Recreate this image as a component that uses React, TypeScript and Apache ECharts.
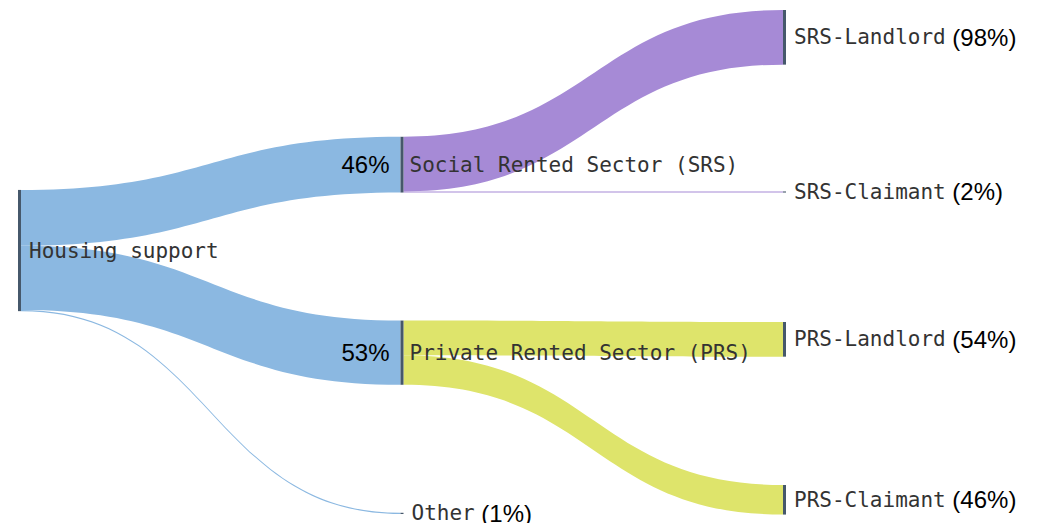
import React, { useEffect, useRef } from "react";
import * as echarts from "echarts";

// ---- data ----
const rootName = "Housing support";
const sectorNames = ["Social Rented Sector (SRS)", "Private Rented Sector (PRS)", "Other"];
const sectorShares = [46, 53, 1]; // % of housing support
const srsChildren = ["SRS-Landlord", "SRS-Claimant"];
const srsShares = [98, 2]; // % of SRS
const prsChildren = ["PRS-Landlord", "PRS-Claimant"];
const prsShares = [54, 46]; // % of PRS

// ---- layout (vertical placement of nodes as a fraction of the series height) ----
const nodeLocalY: Record<string, number> = {
  "Housing support": 0.357,
  "SRS-Landlord": 0,
  "SRS-Claimant": 0.36,
  "PRS-Landlord": 0.619,
  "PRS-Claimant": 0.9425,
};

// ---- styles ----
const MONO = "DejaVu Sans Mono";
const SANS = "Liberation Sans";
const NODE_COLOR = "#46586b";
const BLUE = "#8bb8e1";
const PURPLE = "#a68ad6";
const YELLOW = "#dee46b";

export default function App() {
  const ref = useRef<HTMLDivElement>(null);

  useEffect(() => {
    if (!ref.current) return;
    const chart = echarts.init(ref.current, null, { renderer: "svg" });

    const rich = {
      n: { fontFamily: MONO, fontSize: 21, color: "#333" },
      p: { fontFamily: SANS, fontSize: 24, color: "#000" },
      g: { width: 20, fontSize: 21 },
    };

    const withY = (item: any) => {
      const y = nodeLocalY[item.name];
      return y != null ? { ...item, localY: y } : item;
    };

    const nodes: any[] = [];
    nodes.push(withY({
      name: rootName,
      label: { formatter: "{n|" + rootName + "}" },
    }));
    sectorNames.forEach((name, i) => {
      if (name === "Other") {
        nodes.push(withY({
          name,
          label: { formatter: "{n|" + name + "}{p| (" + sectorShares[i] + "%)}" },
        }));
      } else {
        nodes.push(withY({
          name,
          label: {
            position: [-59, "50%"],
            align: "left",
            verticalAlign: "middle",
            formatter: "{p|" + sectorShares[i] + "%}{g| }{n|" + name + "}",
          },
        }));
      }
    });
    srsChildren.forEach((name, i) => {
      nodes.push(withY({ name, label: { formatter: "{n|" + name + "}{p| (" + srsShares[i] + "%)}" } }));
    });
    prsChildren.forEach((name, i) => {
      nodes.push(withY({ name, label: { formatter: "{n|" + name + "}{p| (" + prsShares[i] + "%)}" } }));
    });

    const links: any[] = [];
    sectorNames.forEach((name, i) => {
      links.push({ source: rootName, target: name, value: sectorShares[i], lineStyle: { color: BLUE } });
    });
    srsChildren.forEach((name, i) => {
      links.push({
        source: sectorNames[0],
        target: name,
        value: (sectorShares[0] * srsShares[i]) / 100,
        lineStyle: { color: PURPLE },
      });
    });
    prsChildren.forEach((name, i) => {
      links.push({
        source: sectorNames[1],
        target: name,
        value: (sectorShares[1] * prsShares[i]) / 100,
        lineStyle: { color: YELLOW },
      });
    });

    chart.setOption({
      animation: false,
      series: [
        {
          type: "sankey",
          left: 18,
          top: 10,
          width: 768,
          height: 504,
          nodeWidth: 3,
          nodeGap: 128,
          nodeAlign: "left",
          draggable: false,
          emphasis: { disabled: true },
          itemStyle: { color: NODE_COLOR, borderWidth: 0 },
          lineStyle: { opacity: 1, curveness: 0.5 },
          label: {
            position: "right",
            distance: 8,
            rich,
          },
          data: nodes,
          links,
        },
      ],
    });

    return () => chart.dispose();
  }, []);

  return <div ref={ref} style={{ width: 1040, height: 523, position: "absolute", left: 0, top: 0 }} />;
}
